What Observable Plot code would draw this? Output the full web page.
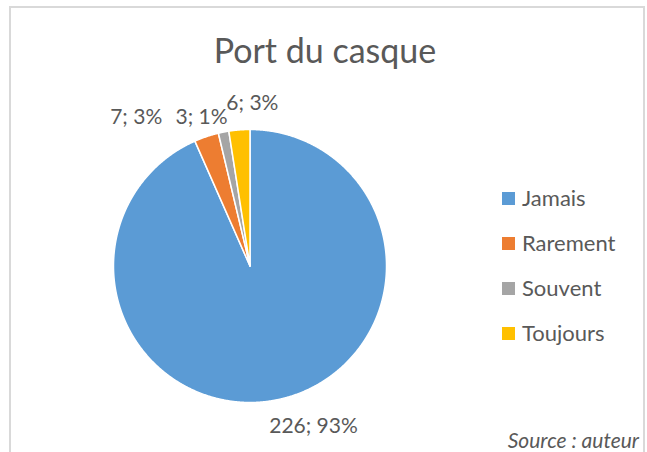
<!DOCTYPE html>
<html>
<head>
<meta charset="utf-8">
<script src="https://cdn.jsdelivr.net/npm/d3@7"></script>
<script src="https://cdn.jsdelivr.net/npm/@observablehq/plot@0.6"></script>
<style>
  body { margin: 0; background: #fff; }
  #wrap { position: relative; width: 647px; height: 452px; overflow: hidden; font-family: Lato, "Open Sans", sans-serif; color: #595959; }
  #frame { position: absolute; left: 9px; top: 6px; width: 636px; height: 470px; border: 2px solid #d9d9d9; border-bottom: none; box-sizing: border-box; }
  #title { position: absolute; left: 0; top: 30px; width: 650px; text-align: center; font-size: 34px; line-height: 40px; }
  #chart { position: absolute; left: 0; top: 0; }
  #legend { position: absolute; left: 502px; top: 186px; }
  .item { display: flex; align-items: center; font-size: 22px; line-height: 24px; margin-top: 21px; height: 24px; }
  .item:first-child { margin-top: 0; }
  .sw { width: 13px; height: 13px; margin-right: 7px; }
  #source { position: absolute; right: 8px; top: 427px; font-size: 21px; font-style: italic; color: #595959; line-height: 26px; }
</style>
</head>
<body>
<div id="wrap">
  <div id="frame"></div>
  <div id="title">Port du casque</div>
  <div id="chart"></div>
  <div id="legend"></div>
  <div id="source">Source : auteur</div>
</div>
<script>
const categories = ["Jamais", "Rarement", "Souvent", "Toujours"];
const values = [226, 7, 3, 6];
const percentLabels = [93, 3, 1, 3];
const colors = ["#5B9BD5", "#ED7D31", "#A5A5A5", "#FFC000"];

const pie = d3.pie().sort(null).value(d => d.value)(
  categories.map((c, i) => ({cat: c, value: values[i], pct: percentLabels[i]}))
);

// polygon points for each slice (angles clockwise from 12 o'clock)
const pts = [];
pie.forEach(s => {
  const n = Math.max(2, Math.ceil((s.endAngle - s.startAngle) / 0.005));
  pts.push({cat: s.data.cat, x: 0, y: 0});
  for (let k = 0; k <= n; k++) {
    const a = s.startAngle + (s.endAngle - s.startAngle) * k / n;
    pts.push({cat: s.data.cat, x: Math.sin(a), y: Math.cos(a)});
  }
  pts.push({cat: s.data.cat, x: 0, y: 0});
});

const labelOffsets = [[30, 1], [-62, 5], [-17, 11], [15, -1]];
const K = 1.19;
const labelMarks = pie.map((s, i) => {
  const mid = (s.startAngle + s.endAngle) / 2;
  return Plot.text([s], {
    x: () => Math.sin(mid) * K,
    y: () => Math.cos(mid) * K,
    text: d => `${d.data.value}; ${d.data.pct}%`,
    dx: labelOffsets[i][0],
    dy: labelOffsets[i][1],
    fontSize: 21,
    fontFamily: "Lato, 'Open Sans', sans-serif",
    fill: "#595959",
    textAnchor: "middle"
  });
});

const chart = Plot.plot({
  width: 647,
  height: 452,
  margin: 0,
  x: {domain: [-1, 1], range: [113, 386], axis: null},
  y: {domain: [-1, 1], range: [402, 129], axis: null},
  color: {domain: categories, range: colors},
  style: {background: "transparent", overflow: "visible"},
  marks: [
    Plot.line(pts, {x: "x", y: "y", z: "cat", fill: "cat", stroke: "white", strokeWidth: 1.5, strokeLinejoin: "round", curve: "linear"}),
    ...labelMarks
  ]
});
document.getElementById("chart").appendChild(chart);

const legend = document.getElementById("legend");
categories.forEach((c, i) => {
  const row = document.createElement("div");
  row.className = "item";
  const sw = document.createElement("div");
  sw.className = "sw";
  sw.style.background = colors[i];
  const t = document.createElement("span");
  t.textContent = c;
  row.appendChild(sw);
  row.appendChild(t);
  legend.appendChild(row);
});
</script>
</body>
</html>
